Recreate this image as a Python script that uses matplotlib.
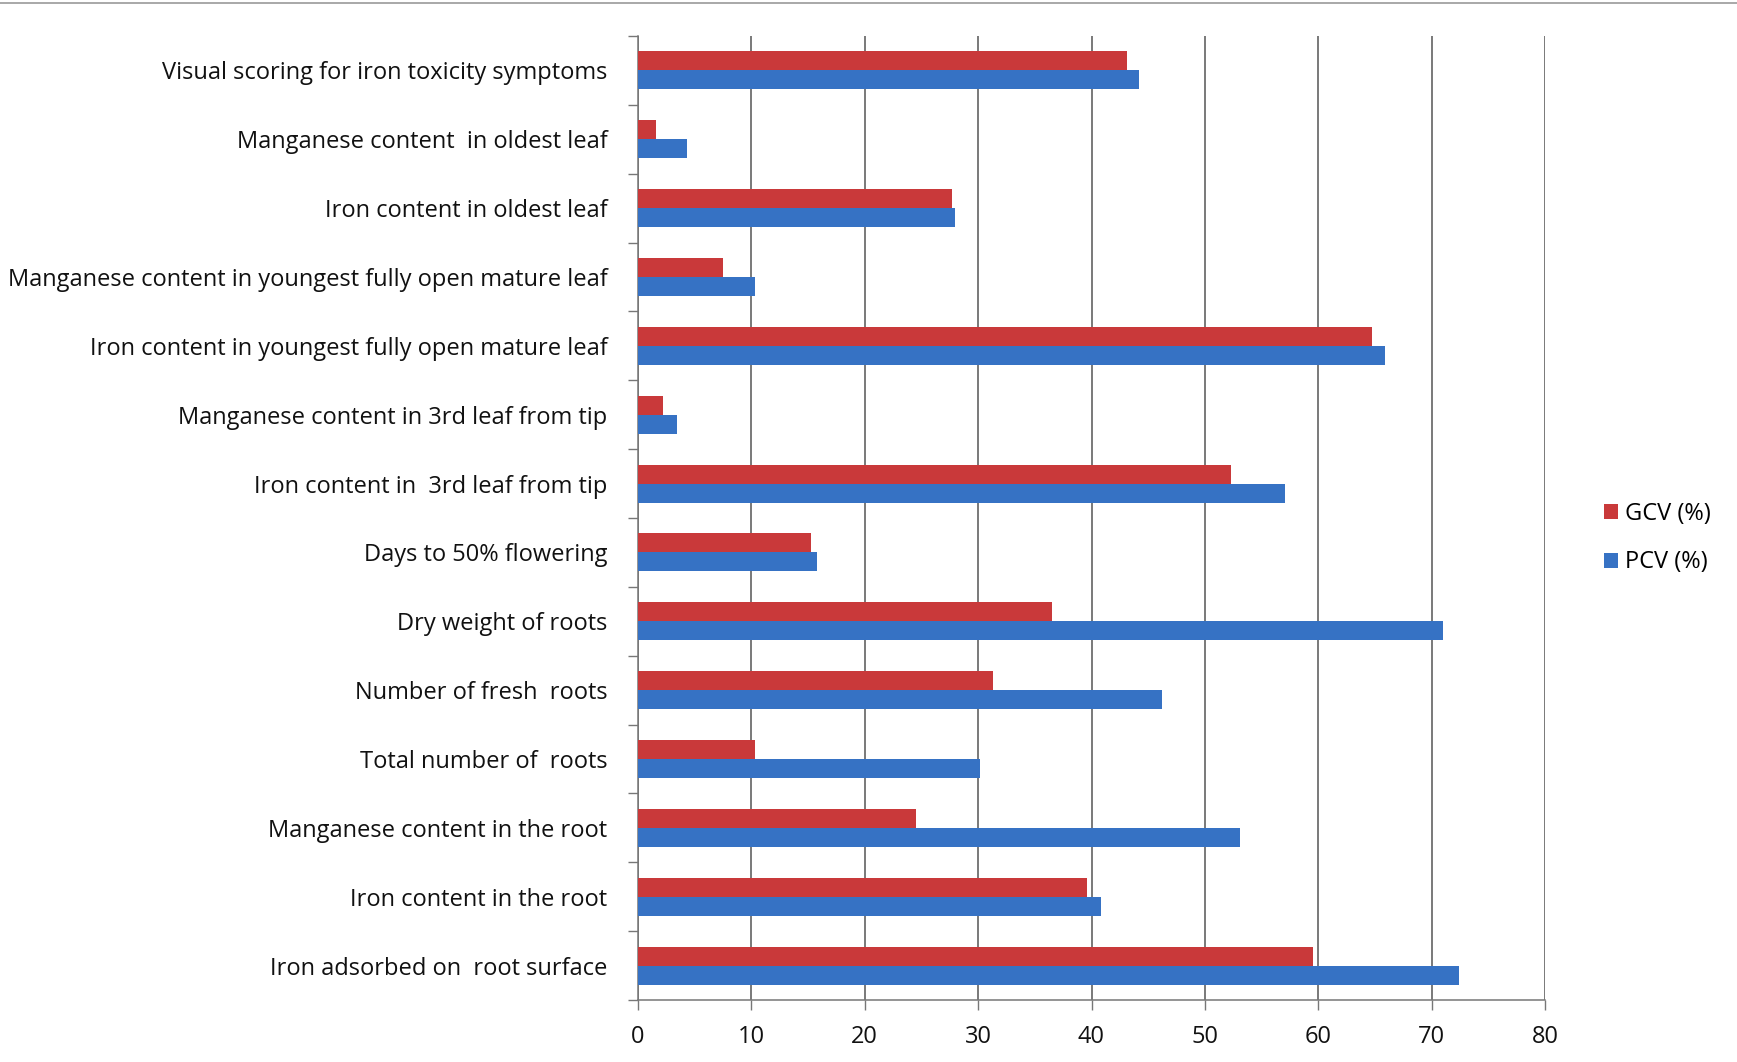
import numpy as np
import matplotlib.pyplot as plt

# Traits, listed top to bottom
traits = [
    "Visual scoring for iron toxicity symptoms",
    "Manganese content  in oldest leaf",
    "Iron content in oldest leaf",
    "Manganese content in youngest fully open mature leaf",
    "Iron content in youngest fully open mature leaf",
    "Manganese content in 3rd leaf from tip",
    "Iron content in  3rd leaf from tip",
    "Days to 50% flowering",
    "Dry weight of roots",
    "Number of fresh  roots",
    "Total number of  roots",
    "Manganese content in the root",
    "Iron content in the root",
    "Iron adsorbed on  root surface",
]
gcv = [43.1, 1.6, 27.7, 7.5, 64.7, 2.2, 52.3, 15.3, 36.5, 31.3, 10.3, 24.5, 39.6, 59.5]
pcv = [44.2, 4.3, 28.0, 10.3, 65.9, 3.4, 57.1, 15.8, 71.0, 46.2, 30.2, 53.1, 40.8, 72.4]
xticks = [0, 10, 20, 30, 40, 50, 60, 70, 80]

red = "#C9393A"
blue = "#3672C4"

plt.rcParams["font.family"] = ["Open Sans", "DejaVu Sans"]

fig = plt.figure(figsize=(17.37, 10.62), dpi=100)
ax = fig.add_axes([638 / 1737, 1 - 1000 / 1062, (1545 - 638) / 1737, (1000 - 36) / 1062])

y = np.arange(len(traits))
h = 0.275
ax.barh(y - h / 2, gcv, height=h, color=red, label="GCV (%)", zorder=3)
ax.barh(y + h / 2, pcv, height=h, color=blue, label="PCV (%)", zorder=3)

ax.set_xlim(0, 80)
ax.set_ylim(len(traits) - 0.5, -0.5)
ax.set_xticks(xticks)
ax.set_yticks(y)
ax.set_yticklabels(traits)
ax.set_yticks(np.arange(-0.5, len(traits)), minor=True)

ax.tick_params(axis="y", which="major", length=0, pad=22, labelsize=17, colors="#111111")
ax.tick_params(axis="y", which="minor", length=7, width=1, color="#777777", direction="out")
ax.tick_params(axis="x", length=7, width=1, color="#777777", labelsize=17, pad=11,
               labelcolor="#111111")

ax.grid(axis="x", color="#555555", linewidth=1.1, zorder=0)
for side in ["top", "right"]:
    ax.spines[side].set_visible(False)
ax.spines["left"].set_color("#777777")
ax.spines["bottom"].set_color("#777777")
ax.spines["left"].set_linewidth(1.1)
ax.spines["bottom"].set_linewidth(1.1)

leg = ax.legend(loc="center left", bbox_to_anchor=(1604 / 1737, 1 - 538 / 1062),
                bbox_transform=fig.transFigure, frameon=False, fontsize=17,
                handlelength=0.6, handleheight=0.6, handletextpad=0.3, labelspacing=1.05,
                borderpad=0, borderaxespad=0)

# thin border line along the top of the page
fig.add_artist(plt.Line2D([0, 1], [0.997, 0.997], transform=fig.transFigure,
                          color="#999999", linewidth=1.2))

fig.savefig("out.png", dpi=100)
